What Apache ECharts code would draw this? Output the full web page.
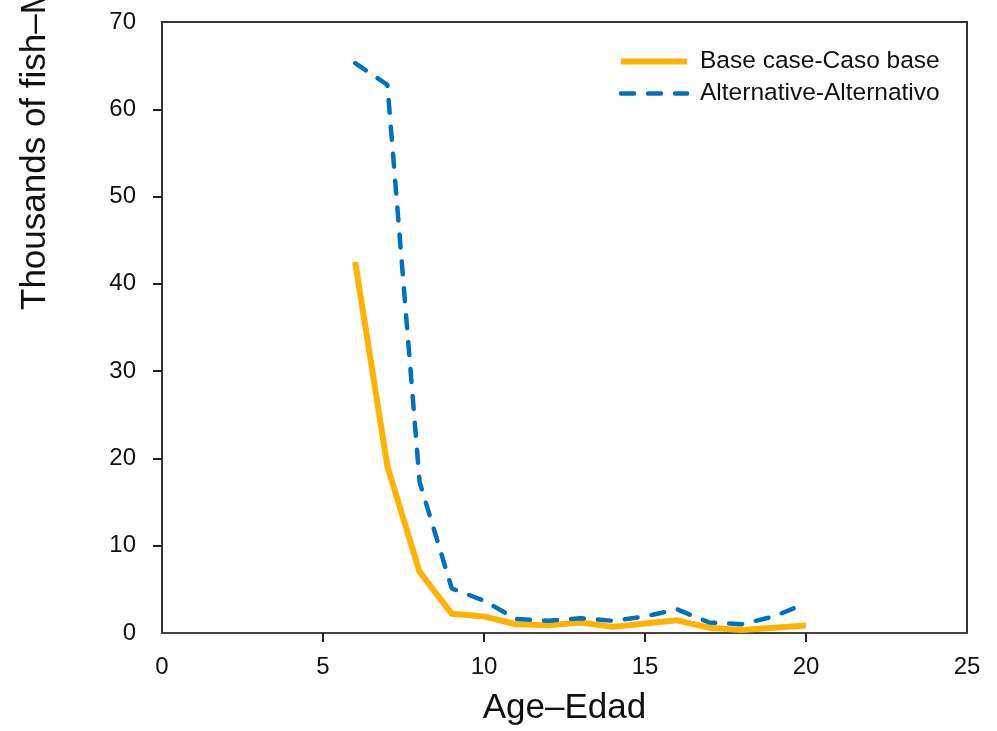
<!DOCTYPE html>
<html>
<head>
<meta charset="utf-8">
<script src="https://cdn.jsdelivr.net/npm/echarts@6/dist/echarts.min.js"></script>
<style>
  html, body { margin: 0; padding: 0; background: #fff; }
  #chart { width: 997px; height: 731px; }
</style>
</head>
<body>
<div id="chart"></div>
<script type="text/javascript">
    // ages on the x axis
    var ages = [6, 7, 8, 9, 10, 11, 12, 13, 14, 15, 16, 17, 18, 19, 20];
    // thousands of fish
    var baseCase = [42.5, 19.1, 7.0, 2.2, 1.9, 1.0, 0.9, 1.2, 0.7, 1.1, 1.45, 0.6, 0.35, 0.6, 0.85];
    var alternative = [65.3, 62.8, 17.3, 5.1, 3.7, 1.6, 1.4, 1.7, 1.4, 1.9, 2.7, 1.2, 1.0, 1.9, 3.4];
    var xTicks = [5, 10, 15, 20];
    var yTicks = [10, 20, 30, 40, 50, 60];

    var font = 'Liberation Sans, Arial, sans-serif';

    function pairs(xs, ys) {
        var out = [];
        for (var i = 0; i < xs.length; i++) {
            out.push([xs[i], ys[i]]);
        }
        return out;
    }

    var myChart = echarts.init(document.getElementById('chart'));

    var option = {
        animation: false,
        backgroundColor: '#fff',
        grid: {
            left: 162, right: 30, top: 22, bottom: 97,
            show: true,
            borderColor: '#333',
            borderWidth: 2
        },
        legend: {
            orient: 'vertical',
            left: 613,
            top: 44,
            itemWidth: 66,
            itemHeight: 14,
            itemGap: 7,
            itemStyle: { opacity: 0 },
            lineStyle: { width: 'inherit' },
            textStyle: {
                fontFamily: font,
                fontSize: 24.5,
                color: '#111',
                lineHeight: 24,
                padding: [0, 0, 0, 8]
            },
            data: ['Base case-Caso base', 'Alternative-Alternativo']
        },
        xAxis: {
            type: 'value',
            min: 0, max: 25, interval: 5,
            name: 'Age\u2013Edad',
            nameLocation: 'middle',
            nameGap: 58,
            nameTextStyle: { fontFamily: font, fontSize: 35, color: '#111' },
            axisLine: { show: true, lineStyle: { color: '#444', width: 2 } },
            axisTick: {
                show: true, inside: false, length: 9,
                customValues: xTicks,
                lineStyle: { color: '#222', width: 2 }
            },
            axisLabel: { margin: 22, fontFamily: font, fontSize: 24, color: '#111' },
            splitLine: { show: false }
        },
        yAxis: {
            type: 'value',
            min: 0, max: 70, interval: 10,
            axisLine: { show: true, lineStyle: { color: '#333', width: 2 } },
            axisTick: {
                show: true, inside: false, length: 9,
                customValues: yTicks,
                lineStyle: { color: '#222', width: 2 }
            },
            axisLabel: { margin: 26, fontFamily: font, fontSize: 24, color: '#111' },
            splitLine: { show: false }
        },
        graphic: [{
            type: 'text',
            x: 35,
            y: 310,
            rotation: Math.PI / 2,
            style: {
                text: 'Thousands of fish\u2013Miles de peces',
                font: '35px ' + font,
                fill: '#111',
                align: 'left',
                textAlign: 'left',
                verticalAlign: 'middle',
                textVerticalAlign: 'middle'
            }
        }],
        series: [{
            name: 'Base case-Caso base',
            type: 'line',
            symbol: 'none',
            data: pairs(ages, baseCase),
            lineStyle: { color: '#FFB300', width: 6 },
            itemStyle: { color: '#FFB300' }
        }, {
            name: 'Alternative-Alternativo',
            type: 'line',
            symbol: 'none',
            data: pairs(ages, alternative),
            lineStyle: { color: '#0070C0', width: 4.5, type: [13, 14], cap: 'round' },
            itemStyle: { color: '#0070C0' }
        }]
    };

    myChart.setOption(option);
</script>
</body>
</html>
